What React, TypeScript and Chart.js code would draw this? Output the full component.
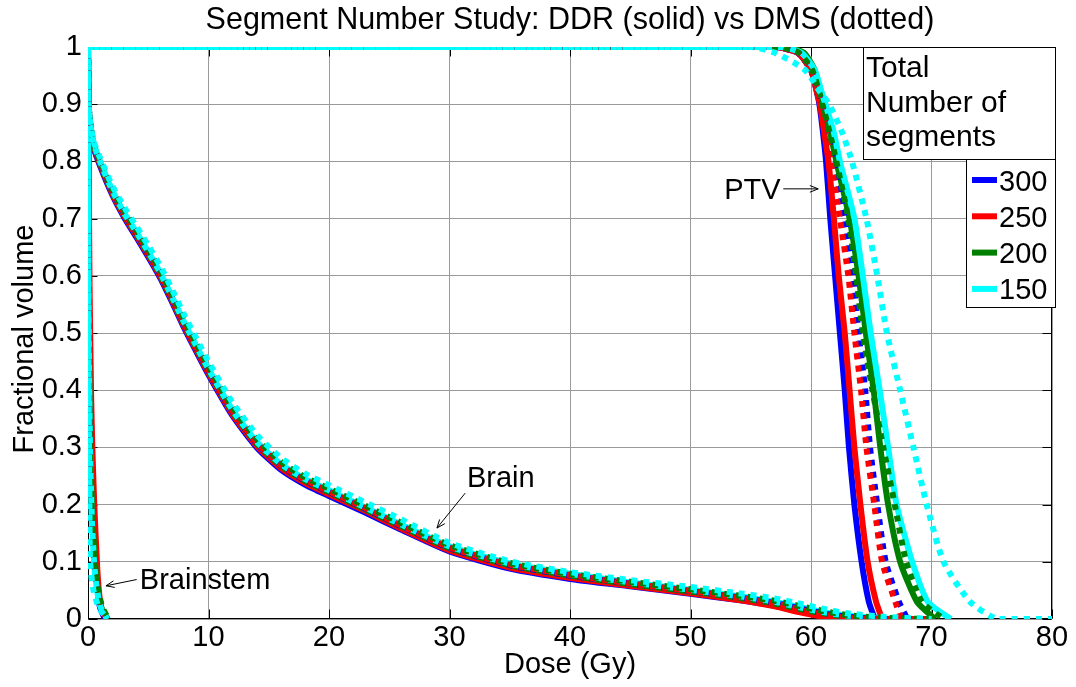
import React, { useEffect, useRef } from "react";
import { Chart, registerables } from "chart.js";

Chart.register(...registerables);

const FONT = '"Liberation Sans", Arial, Helvetica, sans-serif';

const chartTitle = "Segment Number Study: DDR (solid) vs DMS (dotted)";
const xAxisTitle = "Dose (Gy)";
const yAxisTitle = "Fractional volume";
const legendHeading = ["Total", "Number of", "segments"];

const segmentCounts = ["300", "250", "200", "150"];
const segmentColors = ["#0000ff", "#ff0000", "#008000", "#00ffff"];

const xTickValues = [0, 10, 20, 30, 40, 50, 60, 70, 80];
const yTickValues = [0, 0.1, 0.2, 0.3, 0.4, 0.5, 0.6, 0.7, 0.8, 0.9, 1];

// PTV: dose (Gy) at which each volume level is reached
const ptvVolume = [1, 1, 0.99, 0.96, 0.92, 0.9, 0.85, 0.8, 0.7, 0.6, 0.5, 0.4, 0.3, 0.2, 0.1, 0.03, 0, 0];
const ptvDdr300 = [0, 57.0, 58.9, 60.0, 60.5, 60.7, 61.0, 61.25, 61.6, 62.0, 62.4, 62.8, 63.15, 63.6, 64.2, 64.8, 65.3, 65.3];
const ptvDdr250 = [0, 57.0, 58.9, 60.0, 60.5, 60.75, 61.1, 61.45, 61.9, 62.3, 62.8, 63.2, 63.6, 64.1, 64.7, 65.4, 65.9, 65.9];
const ptvDdr200 = [0, 57.8, 59.4, 60.3, 60.8, 61.0, 61.6, 62.1, 63.2, 63.95, 64.55, 65.2, 65.75, 66.4, 67.4, 68.8, 70.3, 70.3];
const ptvDdr150 = [0, 57.5, 59.2, 60.3, 60.9, 61.2, 61.9, 62.4, 63.6, 64.3, 64.95, 65.7, 66.4, 67.1, 68.4, 69.7, 71.6, 71.6];
const ptvDms300 = [0, 57.0, 58.9, 60.0, 60.6, 60.9, 61.4, 61.9, 62.8, 63.5, 63.95, 64.5, 64.9, 65.5, 66.2, 67.3, 68.0, 68.0];
const ptvDms250 = [0, 57.0, 58.9, 60.0, 60.6, 60.8, 61.3, 61.65, 62.4, 63.1, 63.6, 64.15, 64.6, 65.25, 65.9, 67.0, 67.5, 67.5];
const ptvDms200 = [0, 57.3, 59.0, 60.1, 60.7, 60.95, 61.55, 62.1, 63.1, 63.75, 64.3, 65.1, 66.0, 66.95, 67.9, 69.2, 71.0, 71.0];
const ptvDms150 = [0, 55.0, 57.0, 59.5, 60.8, 61.5, 62.6, 63.4, 64.6, 65.5, 66.3, 67.4, 68.5, 69.6, 71.0, 73.2, 75.5, 80.0];

// Brain: fractional volume at each dose
const brainDose = [0, 0.05, 0.2, 0.5, 1, 2, 3, 4, 5, 6, 7, 8, 9, 10, 12, 14, 16, 18, 20, 23, 26, 30, 35, 40, 45, 50, 54, 57, 59, 61, 63, 66, 70];
const brainDdr300 = [1, 0.9, 0.86, 0.822, 0.792, 0.742, 0.702, 0.668, 0.633, 0.596, 0.553, 0.508, 0.467, 0.427, 0.355, 0.3, 0.261, 0.235, 0.215, 0.186, 0.156, 0.118, 0.088, 0.07, 0.057, 0.044, 0.033, 0.023, 0.014, 0.005, 0.001, 0, 0];
const brainDdr250 = [1, 0.9, 0.86, 0.825, 0.795, 0.745, 0.705, 0.671, 0.636, 0.599, 0.556, 0.511, 0.47, 0.43, 0.358, 0.303, 0.264, 0.238, 0.218, 0.189, 0.158, 0.12, 0.09, 0.072, 0.058, 0.045, 0.033, 0.022, 0.012, 0.004, 0, 0, 0];
const brainDdr200 = [1, 0.9, 0.862, 0.828, 0.798, 0.748, 0.708, 0.674, 0.639, 0.602, 0.559, 0.515, 0.474, 0.434, 0.362, 0.307, 0.268, 0.242, 0.222, 0.192, 0.162, 0.124, 0.094, 0.076, 0.061, 0.048, 0.037, 0.027, 0.018, 0.01, 0.004, 0, 0];
const brainDdr150 = [1, 0.9, 0.864, 0.83, 0.8, 0.75, 0.71, 0.677, 0.642, 0.605, 0.562, 0.518, 0.477, 0.437, 0.365, 0.31, 0.271, 0.245, 0.225, 0.195, 0.165, 0.127, 0.097, 0.079, 0.064, 0.051, 0.04, 0.03, 0.021, 0.012, 0.006, 0.001, 0];
const brainDms300 = [1, 0.9, 0.862, 0.827, 0.798, 0.749, 0.709, 0.675, 0.64, 0.603, 0.56, 0.515, 0.474, 0.434, 0.362, 0.307, 0.268, 0.242, 0.222, 0.193, 0.162, 0.124, 0.094, 0.076, 0.062, 0.049, 0.038, 0.028, 0.019, 0.01, 0.004, 0, 0];
const brainDms250 = [1, 0.9, 0.862, 0.828, 0.799, 0.75, 0.71, 0.676, 0.641, 0.604, 0.561, 0.516, 0.475, 0.435, 0.363, 0.308, 0.269, 0.243, 0.223, 0.194, 0.163, 0.125, 0.095, 0.077, 0.062, 0.049, 0.037, 0.027, 0.017, 0.008, 0.002, 0, 0];
const brainDms200 = [1, 0.9, 0.863, 0.83, 0.802, 0.753, 0.714, 0.681, 0.646, 0.61, 0.567, 0.523, 0.482, 0.442, 0.37, 0.315, 0.275, 0.248, 0.228, 0.198, 0.168, 0.129, 0.098, 0.079, 0.065, 0.052, 0.041, 0.032, 0.023, 0.014, 0.007, 0.002, 0];
const brainDms150 = [1, 0.9, 0.865, 0.833, 0.806, 0.758, 0.72, 0.687, 0.653, 0.617, 0.575, 0.531, 0.49, 0.45, 0.378, 0.322, 0.282, 0.254, 0.234, 0.204, 0.174, 0.133, 0.101, 0.082, 0.068, 0.056, 0.045, 0.036, 0.027, 0.018, 0.01, 0.004, 0];

// Brainstem: dose (Gy) at which each volume level is reached
const brainstemVolume = [1, 0.6, 0.4, 0.3, 0.2, 0.1, 0.05, 0.02, 0];
const brainstemDdr300 = [0, 0.05, 0.13, 0.22, 0.36, 0.6, 0.8, 1.0, 1.4];
const brainstemDdr250 = [0, 0.12, 0.25, 0.36, 0.52, 0.74, 0.9, 1.1, 1.55];
const brainstemDdr200 = [0, 0.04, 0.12, 0.2, 0.33, 0.58, 0.82, 1.1, 1.65];
const brainstemDdr150 = [0, 0.04, 0.1, 0.17, 0.28, 0.5, 0.75, 1.05, 1.6];
const brainstemDms300 = [0, 0.03, 0.08, 0.14, 0.25, 0.5, 0.8, 1.1, 1.5];
const brainstemDms250 = [0, 0.03, 0.09, 0.15, 0.27, 0.52, 0.82, 1.1, 1.5];
const brainstemDms200 = [0, 0.03, 0.08, 0.15, 0.28, 0.55, 0.85, 1.2, 1.7];
const brainstemDms150 = [0, 0.02, 0.05, 0.08, 0.12, 0.17, 0.45, 0.9, 1.6];

type Pt = { x: number; y: number };
const zip = (xs: number[], ys: number[]): Pt[] => xs.map((x, i) => ({ x, y: ys[i] }));

// Series per planning method, in the order [300, 250, 200, 150]
const methods = [
  {
    name: "DMS",
    dash: [6, 6],
    ptv: [ptvDms300, ptvDms250, ptvDms200, ptvDms150],
    brain: [brainDms300, brainDms250, brainDms200, brainDms150],
    stem: [brainstemDms300, brainstemDms250, brainstemDms200, brainstemDms150],
  },
  {
    name: "DDR",
    dash: [] as number[],
    ptv: [ptvDdr300, ptvDdr250, ptvDdr200, ptvDdr150],
    brain: [brainDdr300, brainDdr250, brainDdr200, brainDdr150],
    stem: [brainstemDdr300, brainstemDdr250, brainstemDdr200, brainstemDdr150],
  },
];

// Text labels with pointer arrows, anchored in data coordinates
const annotations = [
  { text: "PTV", at: [52.8, 0.734], from: [57.7, 0.752], to: [60.6, 0.752] },
  { text: "Brain", at: [31.45, 0.231], from: [31.3, 0.22], to: [28.96, 0.159] },
  { text: "Brainstem", at: [4.3, 0.052], from: [4.04, 0.069], to: [1.49, 0.058] },
];

function buildDatasets() {
  const sets: any[] = [];
  // first dataset is painted last (on top): DMS 150 ... DDR 300
  methods.forEach((m) => {
    for (let k = 3; k >= 0; k--) {
      const common = {
        borderColor: segmentColors[k],
        backgroundColor: segmentColors[k],
        borderWidth: 6,
        borderDash: m.dash,
        borderCapStyle: "butt",
        showLine: true,
        pointRadius: 0,
        pointHoverRadius: 0,
        tension: 0.2,
        fill: false,
      };
      sets.push({ ...common, label: `${m.name} ${segmentCounts[k]} PTV`, data: zip(m.ptv[k], ptvVolume) });
      sets.push({ ...common, label: `${m.name} ${segmentCounts[k]} Brain`, data: zip(brainDose, m.brain[k]) });
      sets.push({ ...common, label: `${m.name} ${segmentCounts[k]} Brainstem`, data: zip(m.stem[k], brainstemVolume) });
    }
  });
  return sets;
}

function drawArrow(ctx: CanvasRenderingContext2D, x1: number, y1: number, x2: number, y2: number) {
  ctx.beginPath();
  ctx.moveTo(x1, y1);
  ctx.lineTo(x2, y2);
  ctx.stroke();
  const ang = Math.atan2(y2 - y1, x2 - x1);
  const len = 9;
  const spread = 0.38;
  ctx.beginPath();
  ctx.moveTo(x2 - len * Math.cos(ang - spread), y2 - len * Math.sin(ang - spread));
  ctx.lineTo(x2, y2);
  ctx.lineTo(x2 - len * Math.cos(ang + spread), y2 - len * Math.sin(ang + spread));
  ctx.stroke();
}

const framePlugin = {
  id: "frame",
  beforeDatasetsDraw(chart: any) {
    const { ctx, chartArea: a } = chart;
    const xs = chart.scales.x;
    const ys = chart.scales.y;
    const L = Math.round(a.left) + 0.5;
    const R = Math.round(a.right) - 0.5;
    const T = Math.round(a.top) + 0.5;
    const B = Math.round(a.bottom) - 0.5;
    ctx.save();
    ctx.strokeStyle = "#000";
    ctx.lineWidth = 1;
    ctx.strokeRect(L, T, R - L, B - T);
    const tick = 9;
    ctx.beginPath();
    xTickValues.forEach((v) => {
      const px = Math.round(xs.getPixelForValue(v)) + 0.5;
      ctx.moveTo(px, B);
      ctx.lineTo(px, B - tick);
      ctx.moveTo(px, T);
      ctx.lineTo(px, T + tick);
    });
    yTickValues.forEach((v) => {
      const py = Math.round(ys.getPixelForValue(v)) + 0.5;
      ctx.moveTo(L, py);
      ctx.lineTo(L + tick, py);
      ctx.moveTo(R, py);
      ctx.lineTo(R - tick, py);
    });
    ctx.stroke();
    ctx.restore();
  },
  afterDatasetsDraw(chart: any) {
    const { ctx, chartArea: a } = chart;
    const xs = chart.scales.x;
    const ys = chart.scales.y;
    ctx.save();

    // titles
    ctx.fillStyle = "#000";
    ctx.textAlign = "center";
    ctx.textBaseline = "alphabetic";
    ctx.font = `30.5px ${FONT}`;
    ctx.fillText(chartTitle, (a.left + a.right) / 2, 29);
    ctx.font = `29px ${FONT}`;
    ctx.fillText(xAxisTitle, (a.left + a.right) / 2, 673);
    ctx.save();
    ctx.translate(33, (a.top + a.bottom) / 2 + 6);
    ctx.rotate(-Math.PI / 2);
    ctx.fillText(yAxisTitle, 0, 0);
    ctx.restore();

    // annotations
    ctx.textAlign = "left";
    ctx.strokeStyle = "#000";
    ctx.lineWidth = 1;
    annotations.forEach((n) => {
      ctx.fillText(n.text, xs.getPixelForValue(n.at[0]), ys.getPixelForValue(n.at[1]));
      drawArrow(
        ctx,
        xs.getPixelForValue(n.from[0]),
        ys.getPixelForValue(n.from[1]),
        xs.getPixelForValue(n.to[0]),
        ys.getPixelForValue(n.to[1])
      );
    });

    // legend heading box
    const R = Math.round(a.right);
    const T = Math.round(a.top);
    ctx.font = `30px ${FONT}`;
    ctx.fillStyle = "#fff";
    ctx.fillRect(R - 189, T, 192, 112);
    ctx.strokeRect(R - 189 + 0.5, T + 0.5, 192, 112);
    ctx.fillStyle = "#000";
    legendHeading.forEach((line, i) => {
      ctx.fillText(line, R - 186, T + 30 + i * 34.5);
    });

    // legend entries
    ctx.fillStyle = "#fff";
    ctx.fillRect(R - 86, T + 112, 89, 148);
    ctx.strokeRect(R - 86 + 0.5, T + 112.5, 89, 148);
    ctx.font = `29px ${FONT}`;
    segmentCounts.forEach((label, i) => {
      const cy = T + 133 + i * 36.3;
      ctx.strokeStyle = segmentColors[i];
      ctx.lineWidth = 6;
      ctx.beginPath();
      ctx.moveTo(R - 80, cy);
      ctx.lineTo(R - 55, cy);
      ctx.stroke();
      ctx.fillStyle = "#000";
      ctx.fillText(label, R - 53, cy + 10.5);
    });
    ctx.restore();
  },
};

export default function App() {
  const canvasRef = useRef<HTMLCanvasElement | null>(null);

  useEffect(() => {
    const canvas = canvasRef.current;
    if (!canvas) return;
    const chart = new Chart(canvas, {
      type: "scatter",
      data: { datasets: buildDatasets() },
      options: {
        animation: false,
        responsive: true,
        maintainAspectRatio: false,
        devicePixelRatio: 1,
        layout: { padding: { top: 47, right: 24, left: 0, bottom: 0 } },
        plugins: {
          legend: { display: false },
          title: { display: false },
          tooltip: { enabled: false },
        },
        scales: {
          x: {
            type: "linear",
            min: 0,
            max: 80,
            afterBuildTicks: (s: any) => {
              s.ticks = xTickValues.map((v) => ({ value: v }));
            },
            afterFit: (s: any) => {
              s.height = 68;
            },
            ticks: {
              color: "#000",
              font: { family: FONT, size: 29, lineHeight: 1 },
              padding: 4,
              maxRotation: 0,
              callback: (v: any) => String(v),
            },
            grid: { color: "#9a9a9a", lineWidth: 1, drawTicks: false },
            border: { display: false },
          },
          y: {
            type: "linear",
            min: 0,
            max: 1,
            afterBuildTicks: (s: any) => {
              s.ticks = yTickValues.map((v) => ({ value: v }));
            },
            afterFit: (s: any) => {
              s.width = 88;
            },
            ticks: {
              color: "#000",
              font: { family: FONT, size: 29, lineHeight: 1 },
              padding: 6,
              callback: (v: any) => {
                const n = Number(v);
                if (n === 0 || n === 1) return String(n);
                return n.toFixed(1);
              },
            },
            grid: { color: "#9a9a9a", lineWidth: 1, drawTicks: false },
            border: { display: false },
          },
        },
      },
      plugins: [framePlugin],
    });
    return () => chart.destroy();
  }, []);

  return (
    <div style={{ position: "absolute", left: 0, top: 0, width: 1076, height: 687, background: "#fff" }}>
      <canvas ref={canvasRef} />
    </div>
  );
}
